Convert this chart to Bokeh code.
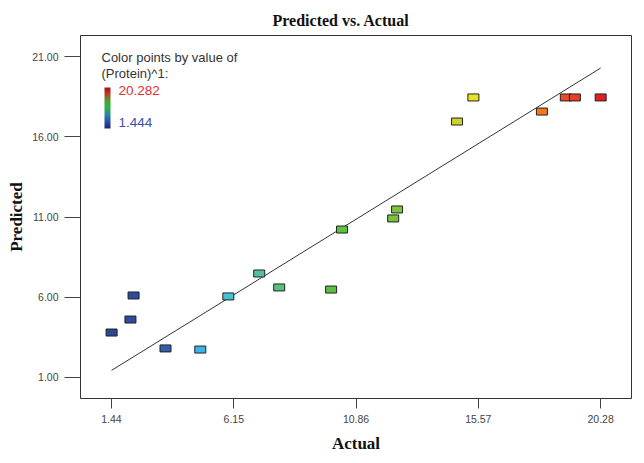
import numpy as np
from bokeh.plotting import figure
from bokeh.models import (ColumnDataSource, LinearColorMapper, ColorBar, Label,
                          FixedTicker, PrintfTickFormatter, Range1d)
from bokeh.embed import file_html
from bokeh.resources import INLINE

# ---- data ----
actual = [1.444, 2.17, 2.29, 3.52, 4.86, 5.94, 7.13, 7.90, 9.90, 10.32,
          12.29, 12.44, 14.75, 15.38, 18.02, 18.94, 19.29, 20.282]
predicted = [3.80, 4.61, 6.11, 2.81, 2.74, 6.05, 7.48, 6.61, 6.48, 10.22,
             10.91, 11.47, 16.95, 18.45, 17.57, 18.45, 18.45, 18.45]
x_ticks = [1.44, 6.15, 10.86, 15.57, 20.28]
y_ticks = [1.0, 6.0, 11.0, 16.0, 21.0]
title_text = "Predicted vs. Actual"
x_label = "Actual"
y_label = "Predicted"
legend_line1 = "Color points by value of"
legend_line2 = "(Protein)^1:"

# ---- palettes (style) ----
def build_palette(anchors, n=256):
    pos = np.array([a[0] for a in anchors])
    cols = np.array([[int(a[1][i:i + 2], 16) for i in (1, 3, 5)] for a in anchors], float)
    t = np.linspace(0, 1, n)
    out = []
    for v in t:
        rgb = [np.interp(v, pos, cols[:, k]) for k in range(3)]
        out.append("#%02x%02x%02x" % tuple(int(round(c)) for c in rgb))
    return out

point_palette = build_palette([
    (0.00, "#2d4698"), (0.08, "#2f4ea2"), (0.12, "#3462b2"), (0.18, "#3cb4e8"),
    (0.24, "#48c0d4"), (0.30, "#50c0a4"), (0.34, "#58c080"), (0.45, "#5cbf40"),
    (0.58, "#78c43c"), (0.71, "#d0d02c"), (0.74, "#e8e420"), (0.88, "#f07a20"),
    (0.93, "#e84a28"), (1.00, "#e02020")])
bar_palette = build_palette([
    (0.00, "#1c2470"), (0.15, "#2a48a8"), (0.35, "#2a8a9a"), (0.50, "#30b040"),
    (0.65, "#40a838"), (0.80, "#a05a28"), (0.90, "#d02020"), (1.00, "#901818")])

lo, hi = min(actual), max(actual)
mapper = LinearColorMapper(palette=point_palette, low=lo, high=hi)
bar_mapper = LinearColorMapper(palette=bar_palette, low=lo, high=hi)

src = ColumnDataSource(dict(actual=actual, predicted=predicted))

p = figure(width=636, height=455, output_backend="svg", toolbar_location=None,
           x_range=Range1d(0.246, 21.47), y_range=Range1d(-0.31, 22.31),
           min_border_left=80, min_border_right=5, min_border_top=35,
           min_border_bottom=57)

p.background_fill_color = "white"
p.border_fill_color = "white"
p.outline_line_color = "#333333"
p.outline_line_width = 1
p.grid.visible = False

p.title.text = title_text
p.title.align = "left"
p.title.offset = 192
p.title.standoff = 14
p.title.text_font = "Liberation Serif"
p.title.text_font_style = "bold"
p.title.text_font_size = "16px"
p.title.text_color = "#111111"

# fit line y = x
p.line(x=[lo, hi], y=[lo, hi], line_color="#333333", line_width=1)

p.rect(x="actual", y="predicted", width=11, height=7, width_units="screen",
       height_units="screen", source=src,
       fill_color={"field": "actual", "transform": mapper},
       line_color="#222222", line_width=1)

for ax in (p.xaxis[0], p.yaxis[0]):
    ax.axis_line_color = None
    ax.major_tick_line_color = "#444444"
    ax.minor_tick_line_color = None
    ax.major_tick_in = 0
    ax.major_label_text_font = "Liberation Sans"
    ax.major_label_text_font_size = "10.5px"
    ax.major_label_text_color = "#444444"
    ax.axis_label_text_font = "Liberation Serif"
    ax.axis_label_text_font_style = "bold"
    ax.axis_label_text_font_size = "17px"
    ax.axis_label_text_color = "#111111"
    ax.formatter = PrintfTickFormatter(format="%.2f")

p.xaxis.ticker = FixedTicker(ticks=x_ticks)
p.yaxis.ticker = FixedTicker(ticks=y_ticks)
p.xaxis.major_tick_out = 10
p.yaxis.major_tick_out = 16
p.xaxis.major_label_standoff = 6
p.yaxis.major_label_standoff = 6
p.xaxis.axis_label = x_label
p.yaxis.axis_label = y_label
p.xaxis.axis_label_standoff = 8
p.yaxis.axis_label_standoff = 3

# legend-like annotation
p.add_layout(Label(x=21, y=341, x_units="screen", y_units="screen", text=legend_line1,
                   text_font="Liberation Sans", text_font_size="13px",
                   text_color="#333333", text_baseline="middle"))
p.add_layout(Label(x=21, y=325, x_units="screen", y_units="screen", text=legend_line2,
                   text_font="Liberation Sans", text_font_size="13px",
                   text_color="#333333", text_baseline="middle"))
p.add_layout(Label(x=38, y=308, x_units="screen", y_units="screen", text="%.3f" % hi,
                   text_font="Liberation Sans", text_font_size="13.5px",
                   text_color="#e03030", text_baseline="middle"))
p.add_layout(Label(x=38, y=276, x_units="screen", y_units="screen", text="%.3f" % lo,
                   text_font="Liberation Sans", text_font_size="13.5px",
                   text_color="#3f4fa8", text_baseline="middle"))

cb = ColorBar(color_mapper=bar_mapper, location=(24, 270), width=6, height=41,
              padding=0, margin=0, ticker=FixedTicker(ticks=[]),
              major_tick_line_color=None, major_label_text_font_size="0px",
              bar_line_color=None, background_fill_color=None, border_line_color=None)
p.add_layout(cb, "center")

open("out.html", "w").write(file_html(p, INLINE))
